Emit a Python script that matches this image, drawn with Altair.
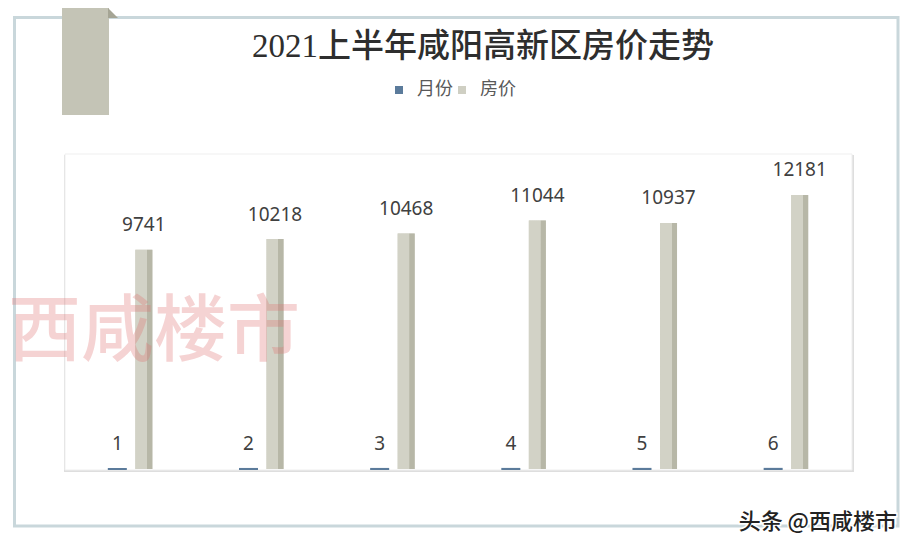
import altair as alt
import pandas as pd

# ---- data ----
groups = [1, 2, 3, 4, 5, 6]
months = [1, 2, 3, 4, 5, 6]
prices = [9741, 10218, 10468, 11044, 10937, 12181]
series = ["月份", "房价"]
series_colors = ["#5b7b9b", "#cfcfc3"]

title_text = "2021上半年咸阳高新区房价走势"
watermark_text = "西咸楼市"
footer_text = "头条 @西咸楼市"

rows = []
for g, m, p in zip(groups, months, prices):
    rows.append({"组": g, "系列": series[0], "值": m})
    rows.append({"组": g, "系列": series[1], "值": p})
df = pd.DataFrame(rows)

one = alt.Data(values=[{}])

x_enc = alt.X("组:O", axis=None, scale=alt.Scale(paddingInner=0.668, paddingOuter=0.334))
xo_enc = alt.XOffset("系列:N", sort=series,
                     scale=alt.Scale(paddingInner=0.3585, paddingOuter=0))
y_enc = alt.Y("值:Q", axis=None, scale=alt.Scale(domain=[0, 14000], nice=False))

# ---- decorations ----
frame = alt.Chart(one).mark_rect(fillOpacity=0, stroke="#c9d7db", strokeWidth=3).encode(
    x=alt.value(-50.5), x2=alt.value(833), y=alt.value(-136.5), y2=alt.value(372))
ribbon = alt.Chart(one).mark_rect(fill="#c4c4b6").encode(
    x=alt.value(-3), x2=alt.value(44), y=alt.value(-146), y2=alt.value(-39))
fold = alt.Chart(one).mark_point(shape="M -1 -1 L 1 1 L -1 1 Z", filled=True,
                                 fill="#a5a595", opacity=1, size=100).encode(
    x=alt.value(48), y=alt.value(-141))
shadow = alt.Chart(one).mark_rect(fill="#dedede").encode(
    x=alt.value(-1), x2=alt.value(789), y=alt.value(1), y2=alt.value(318))
panel = alt.Chart(one).mark_rect(fill="#ffffff", stroke="#efefef", strokeWidth=1).encode(
    x=alt.value(0), x2=alt.value(787), y=alt.value(0), y2=alt.value(316))
watermark = alt.Chart(one).mark_text(text=watermark_text, font="Noto Sans CJK SC",
                                     fontSize=73, fontWeight=500, fill="#e07070",
                                     opacity=0.3, align="center", baseline="middle").encode(
    x=alt.value(89), y=alt.value(179))

# ---- bars ----
bars = alt.Chart(df).mark_bar().encode(
    x=x_enc, xOffset=xo_enc, y=y_enc, y2=alt.datum(0),
    color=alt.Color("系列:N", sort=series,
                    scale=alt.Scale(domain=series, range=series_colors),
                    legend=alt.Legend(title=None, orient="none", direction="horizontal",
                                      legendX=325, legendY=-73, symbolType="square",
                                      symbolSize=64, labelFontSize=18,
                                      labelFont="Noto Sans CJK SC", labelColor="#595959",
                                      labelOffset=9, columnPadding=0, padding=0,
                                      symbolStrokeWidth=0)),
)
month_bars = alt.Chart(df).transform_filter(alt.datum["系列"] == series[0]).mark_bar(
    stroke="#5b7b9b", strokeWidth=2).encode(x=x_enc, xOffset=xo_enc, y=y_enc, y2=alt.datum(0))
price_grad = alt.Chart(df).transform_filter(alt.datum["系列"] == series[1]).mark_bar(
    fill=alt.Gradient(gradient="linear", x1=0, x2=1, y1=0, y2=0,
                      stops=[alt.GradientStop(color="#d2d2c6", offset=0),
                             alt.GradientStop(color="#d2d2c6", offset=0.68),
                             alt.GradientStop(color="#b7b7a7", offset=0.7),
                             alt.GradientStop(color="#b7b7a7", offset=1)])
).encode(x=x_enc, xOffset=xo_enc, y=y_enc, y2=alt.datum(0))

labels = alt.Chart(df).mark_text(font="Noto Sans", fontSize=19, fill="#404040",
                                 baseline="middle", align="center", dy=-24.5).encode(
    x=x_enc, xOffset=xo_enc, y=y_enc, text=alt.Text("值:Q"))

title = alt.Chart(one).mark_text(text=title_text, font="Liberation Serif, Noto Sans CJK SC",
                                 fontSize=33, fontWeight=500, fill="#2e2e2e", align="center",
                                 baseline="middle").encode(
    x=alt.value(418), y=alt.value(-107))

footer_halo = alt.Chart(one).mark_text(text=footer_text, font="Noto Sans CJK SC", fontSize=22,
                                       fontWeight=500, fill="#ffffff", stroke="#ffffff",
                                       strokeWidth=3, align="right", baseline="middle").encode(
    x=alt.value(832), y=alt.value(368))
footer = alt.Chart(one).mark_text(text=footer_text, font="Noto Sans CJK SC", fontSize=22,
                                  fontWeight=500, fill="#222222", align="right",
                                  baseline="middle").encode(
    x=alt.value(832), y=alt.value(368))

chart = alt.layer(
    frame, ribbon, fold, shadow, panel, bars, month_bars, price_grad, labels, watermark,
    title, footer_halo, footer
).properties(
    width=787, height=315,
    autosize=alt.AutoSizeParams(type="none"),
    padding={"left": 57, "top": 146, "right": 53, "bottom": 69},
    background="#ffffff",
).configure_view(stroke=None)

chart.save("out.html", embed_options={"renderer": "svg", "actions": False})
